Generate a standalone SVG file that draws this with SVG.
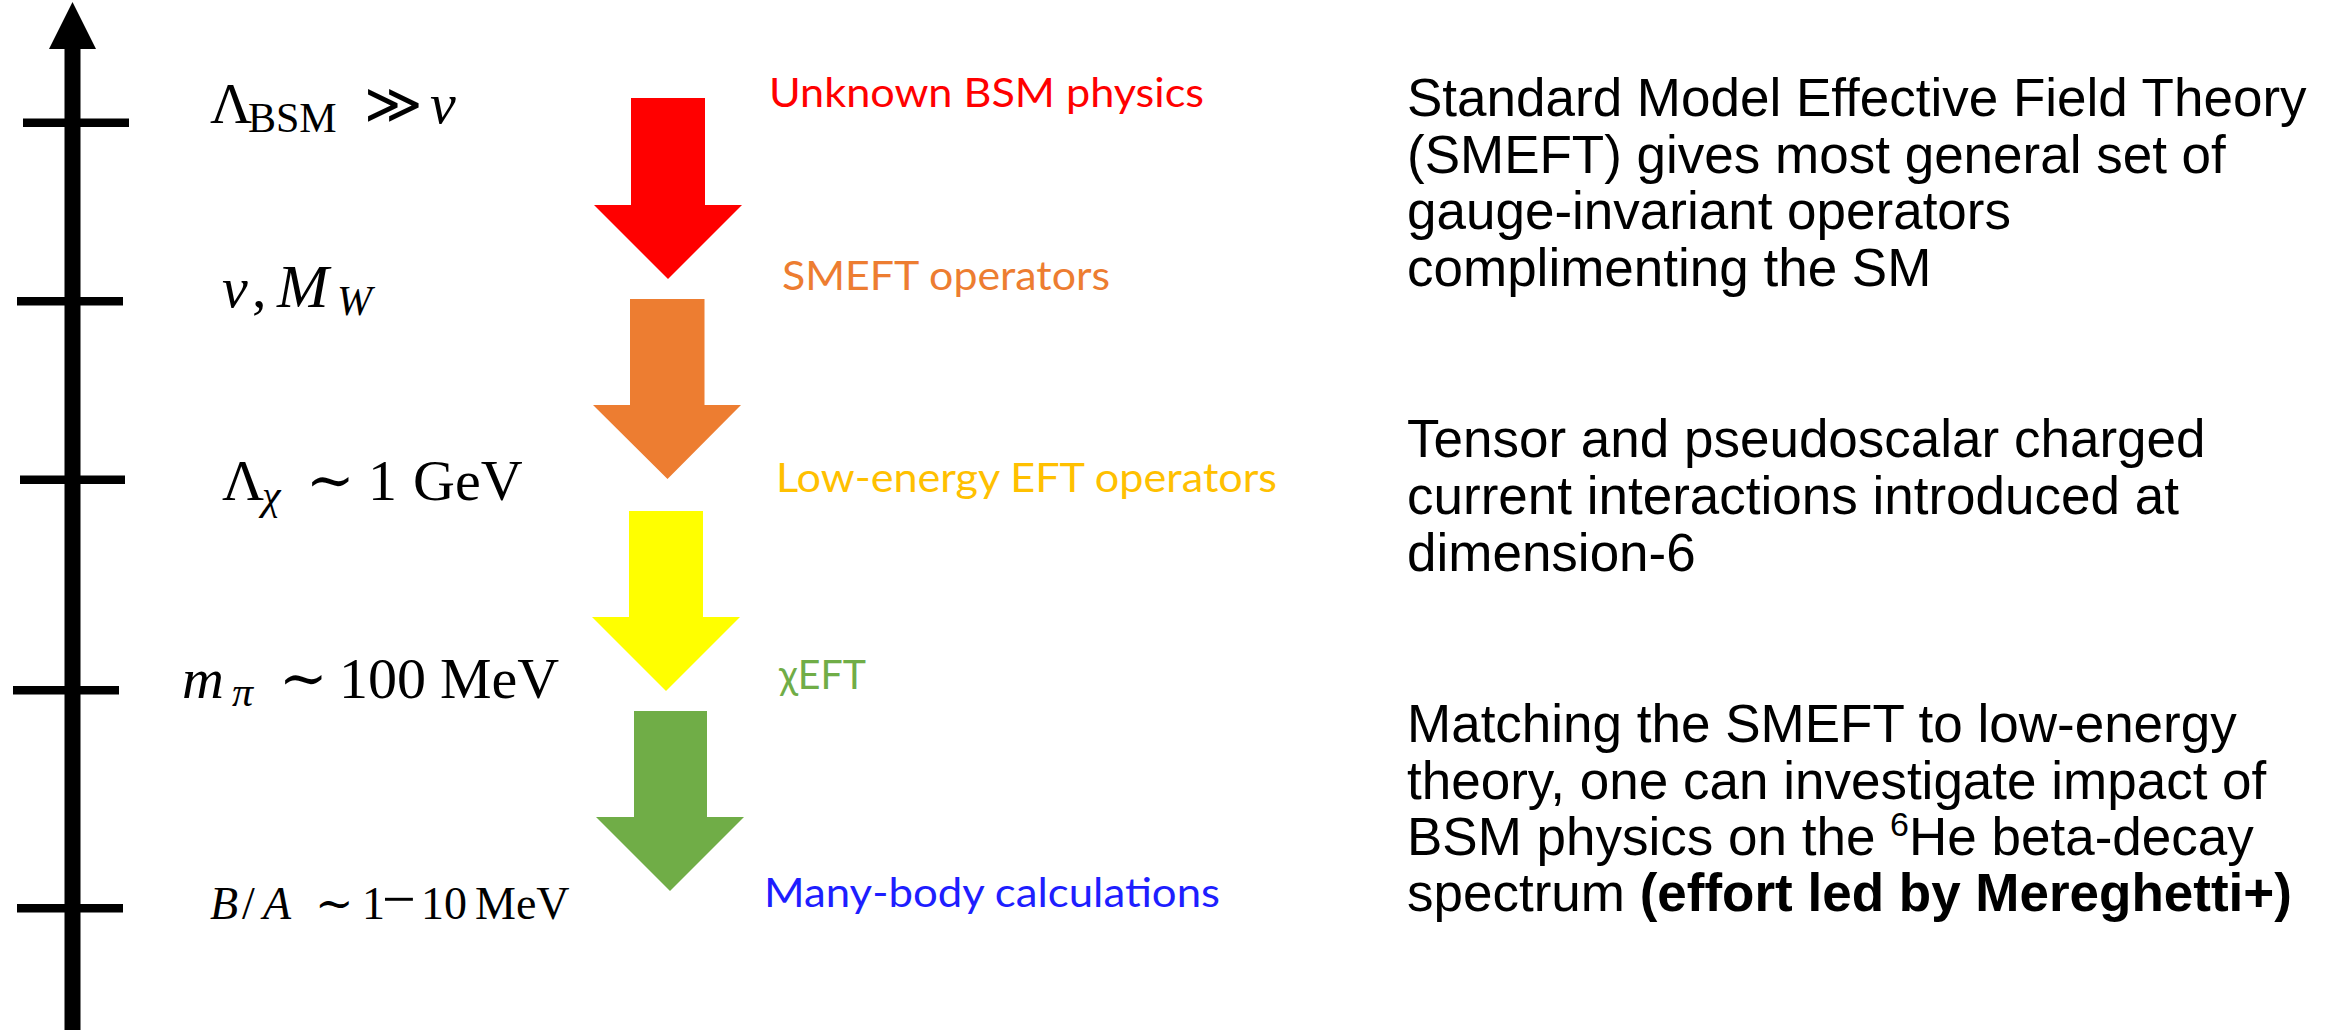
<svg xmlns="http://www.w3.org/2000/svg" width="2338" height="1030" viewBox="0 0 2338 1030">
<style>
.tick{fill:#000}
.m{font-family:"Liberation Serif","DejaVu Serif",serif;font-size:58px;fill:#000}
.it{font-style:italic}
.sub{font-size:42px}
.lbl{font-family:Lato,"Open Sans","Liberation Sans",sans-serif;font-size:41px}
.body{font-family:"Liberation Sans",Arial,sans-serif;font-size:53px;fill:#000}
.b{font-weight:bold}
</style>
<rect width="2338" height="1030" fill="#fff"/>
<g id="axis">
  <rect x="64.5" y="45" width="16" height="985" fill="#000"/>
  <polygon points="72.5,2 49,49 96,49" fill="#000"/>
  <rect class="tick" x="23" y="118.5" width="106" height="8.5"/>
  <rect class="tick" x="17" y="297" width="106" height="8.5"/>
  <rect class="tick" x="20" y="475.5" width="105" height="8.5"/>
  <rect class="tick" x="13" y="686" width="106" height="8.5"/>
  <rect class="tick" x="17" y="904" width="106" height="8.5"/>
</g>
<g id="scale-bsm">
  <text class="m" y="123"><tspan x="210">Λ</tspan><tspan class="sub" x="248" y="132">BSM</tspan><tspan x="364" y="123" style="font-size:56px">≫</tspan><tspan class="it" x="430">v</tspan></text>
</g>
<g id="scale-ew">
  <text class="m" y="307"><tspan class="it" x="222">v</tspan><tspan x="252">,</tspan><tspan class="it" x="277" style="font-size:62px">M</tspan><tspan class="it sub" x="337" y="315">W</tspan></text>
</g>
<g id="scale-chi">
  <text class="m" y="500"><tspan x="222">Λ</tspan><tspan class="it sub" x="262" y="509">χ</tspan><tspan x="306" y="500">∼</tspan><tspan x="368">1</tspan><tspan x="413">GeV</tspan></text>
</g>
<g id="scale-pi">
  <text class="m" y="698"><tspan class="it" x="182">m</tspan><tspan class="it sub" x="232" y="706">π</tspan><tspan x="279" y="698">∼</tspan><tspan x="339">100</tspan><tspan x="440">MeV</tspan></text>
</g>
<g id="scale-nuc">
  <text class="m" y="919" style="font-size:46px"><tspan class="it" x="210">B</tspan><tspan x="242">/</tspan><tspan class="it" x="263">A</tspan><tspan x="315">∼</tspan><tspan x="362">1</tspan><tspan x="382" style="font-size:60px">−</tspan><tspan x="421">10</tspan><tspan x="475">MeV</tspan></text>
</g>
<g id="connectors">
  <path d="M631,98 H705 V205 H742 L668,279 L594,205 H631 Z" fill="#FF0000"/>
  <path d="M630,299 H704.5 V405 H741 L667.5,479 L593,405 H630 Z" fill="#ED7D31"/>
  <path d="M629,511 H703 V617 H740 L666,691 L592,617 H629 Z" fill="#FFFF00"/>
  <path d="M634,711 H707 V817 H744 L670,891 L596,817 H634 Z" fill="#70AD47"/>
</g>
<g id="label-bsm"><text class="lbl" x="769" y="107" fill="#FF0000" textLength="435" lengthAdjust="spacingAndGlyphs">Unknown BSM physics</text></g>
<g id="label-smeft"><text class="lbl" x="782" y="290" fill="#ED7D31" textLength="328" lengthAdjust="spacingAndGlyphs">SMEFT operators</text></g>
<g id="label-left"><text class="lbl" x="776" y="492" fill="#FFC000" textLength="501" lengthAdjust="spacingAndGlyphs">Low-energy EFT operators</text></g>
<g id="label-chieft"><text class="lbl" x="779" y="689" fill="#70AD47" textLength="87" lengthAdjust="spacingAndGlyphs">χEFT</text></g>
<g id="label-manybody"><text class="lbl" x="764" y="907" fill="#1E1EFF" textLength="456" lengthAdjust="spacingAndGlyphs">Many-body calculations</text></g>
<g id="text-smeft">
  <text class="body" x="1407" y="116">Standard Model Effective Field Theory</text>
  <text class="body" x="1407" y="172.5">(SMEFT) gives most general set of</text>
  <text class="body" x="1407" y="229">gauge-invariant operators</text>
  <text class="body" x="1407" y="285.5">complimenting the SM</text>
</g>
<g id="text-tensor">
  <text class="body" x="1407" y="457">Tensor and pseudoscalar charged</text>
  <text class="body" x="1407" y="514">current interactions introduced at</text>
  <text class="body" x="1407" y="571">dimension-6</text>
</g>
<g id="text-matching">
  <text class="body" x="1407" y="742">Matching the SMEFT to low-energy</text>
  <text class="body" x="1407" y="798.5">theory, one can investigate impact of</text>
  <text class="body" x="1407" y="855">BSM physics on the <tspan style="font-size:34px" dy="-19">6</tspan><tspan dy="19">He beta-decay</tspan></text>
  <text class="body" x="1407" y="911">spectrum <tspan class="b">(effort led by Mereghetti+)</tspan></text>
</g>
</svg>
